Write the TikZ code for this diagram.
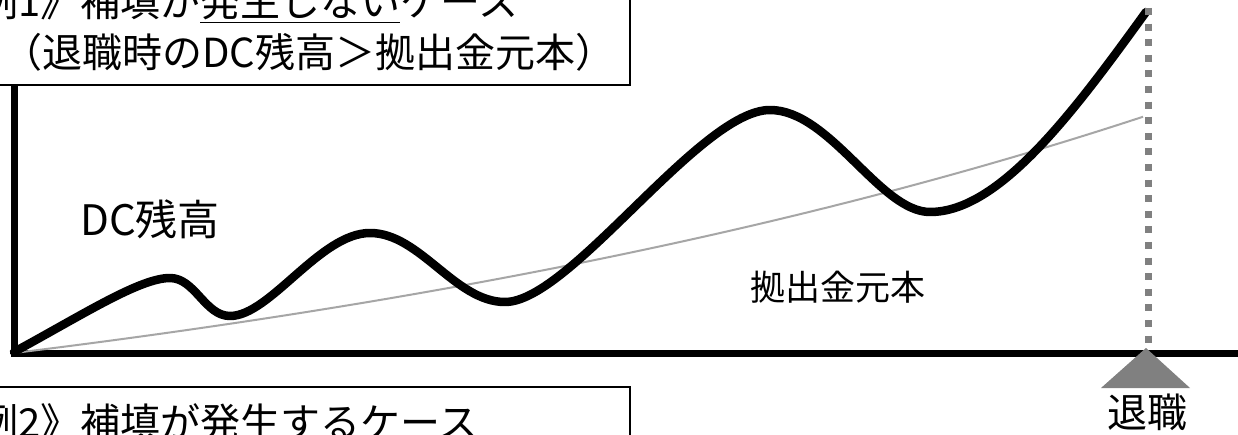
\documentclass[tikz,border=0pt]{standalone}
\usepackage{fontspec}
\setmainfont{Noto Sans CJK JP}
\definecolor{principal}{HTML}{A6A6A6}
\definecolor{retgray}{HTML}{808080}
\begin{document}
\begin{tikzpicture}[x=1pt,y=-1pt,
  boxline/.style={draw=black, line width=2pt},
  boxtext/.style={font=\fontsize{40}{48}\selectfont, inner sep=0pt, anchor=base west},
  bigtext/.style={font=\fontsize{40}{48}\selectfont, inner sep=0pt},
  axisline/.style={draw=black, line width=7pt},
  balance/.style={draw=black, line width=8.5pt, line join=round, line cap=round},
  principalline/.style={draw=principal, line width=2pt},
  retireline/.style={draw=retgray, line width=7pt, dash pattern=on 7pt off 8.6pt},
  retiremark/.style={fill=retgray, draw=none}]
\useasboundingbox (0,0) rectangle (1238,435);
\clip (0,0) rectangle (1238,435);
\fill[white] (0,0) rectangle (1238,435);

% case 1 box
\draw[boxline] (-30,-80) rectangle (630,85);
\node[boxtext] (c1a) at (-102,17) {《事例1》補填が\underline{発生しない}ケース};
\node[boxtext] (c1b) at (2,68) {（退職時のDC残高＞拠出金元本）};

% axes
\coordinate (origin) at (14,353);
\coordinate (ytop) at (14,85);
\coordinate (xend) at (1250,353);
\draw[axisline] (ytop) -- (14,356);
\draw[axisline] (11,353) -- (xend);

% principal curve
\draw[principalline] plot[domain=0:1129, samples=80] ({14+\x},{353-141.5*(exp(0.00087*\x)-1)});

% DC balance curve
\draw[balance] (14,352)
  .. controls (84,314) and (140,278) .. (170,278)
  .. controls (195,278) and (205,316) .. (230,316)
  .. controls (270,316) and (320,233) .. (370,233)
  .. controls (420,233) and (455,302) .. (505,302)
  .. controls (570,302) and (700,110) .. (770,110)
  .. controls (830,110) and (880,212) .. (930,212)
  .. controls (1000,212) and (1075,110) .. (1146,12);

% retirement marker
\coordinate (rtop) at (1148,8);
\coordinate (rbot) at (1148,350);
\draw[retireline] (rtop) -- (rbot);
\fill[retiremark] (1146,348) -- (1190,388) -- (1101,388) -- cycle;
\node[bigtext] (retire) at (1147,412) {退職};

% labels
\node[bigtext, font=\fontsize{42}{50}\selectfont] (dc) at (150,219) {DC残高};
\node[bigtext, font=\fontsize{35}{42}\selectfont] (prin) at (838,287) {拠出金元本};

% case 2 box
\draw[boxline] (-30,387) rectangle (630,520);
\node[boxtext] (c2) at (-102,437) {《事例2》補填が発生するケース};
\end{tikzpicture}
\end{document}
